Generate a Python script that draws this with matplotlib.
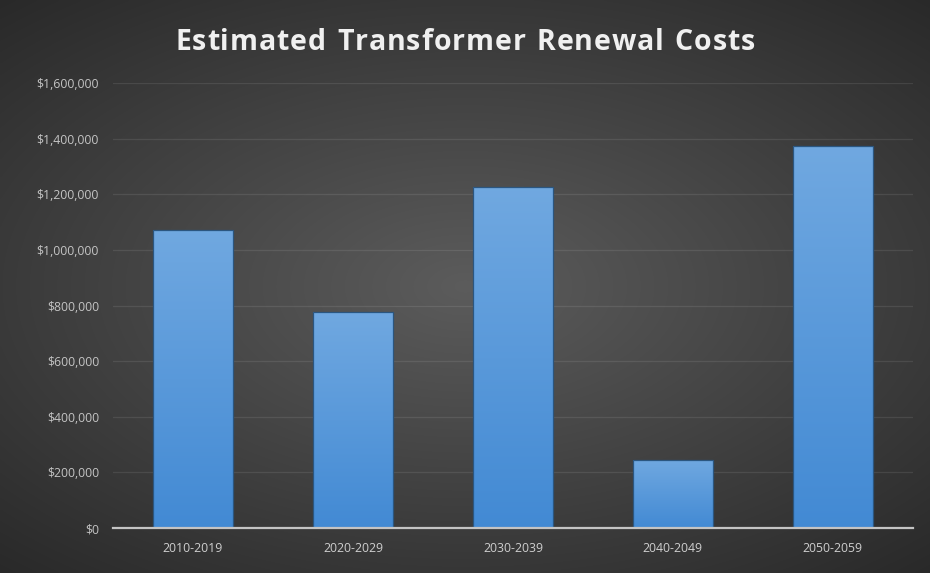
import numpy as np
import matplotlib
matplotlib.use("Agg")
import matplotlib.pyplot as plt
from matplotlib.ticker import FuncFormatter, MultipleLocator

periods = ["2010-2019", "2020-2029", "2030-2039", "2040-2049", "2050-2059"]
costs = [1072000, 777000, 1226000, 245000, 1374000]
title = "Estimated Transformer Renewal Costs"

W, H = 930, 573
fig = plt.figure(figsize=(W / 100, H / 100), dpi=100)

# radial dark-gray backdrop
bg = fig.add_axes([0, 0, 1, 1], zorder=-10)
yy, xx = np.mgrid[-1:1:300j, -1:1:480j]
r = np.sqrt((xx * 0.95) ** 2 + (yy * 1.05) ** 2)
shade = np.clip(0.36 - 0.14 * r, 0.16, 0.36)
bg.imshow(np.dstack([shade, shade, shade]), aspect="auto", extent=[0, 1, 0, 1],
          interpolation="bicubic")
bg.set_axis_off()

ax = fig.add_axes([0.1215, 0.0785, 0.86, 0.7765])
ax.set_facecolor("none")

x = np.arange(len(periods))
bars = ax.bar(x, costs, width=0.5, color="none", edgecolor="#2b5680",
              linewidth=0.9, zorder=3)

# vertical blue gradient inside each bar
grad = np.linspace(0, 1, 256).reshape(-1, 1)
top = np.array([0.44, 0.66, 0.88])
bot = np.array([0.26, 0.54, 0.83])
img = (bot[None, None, :] * (1 - grad[..., None]) + top[None, None, :] * grad[..., None])
for b in bars:
    x0, w, h = b.get_x(), b.get_width(), b.get_height()
    im = ax.imshow(img, extent=[x0, x0 + w, 0, h], origin="lower", aspect="auto",
                   zorder=2.5, interpolation="bilinear")
    im.set_clip_path(b)

ax.set_xlim(-0.5, len(periods) - 0.5)
ax.set_ylim(0, 1600000)
ax.yaxis.set_major_locator(MultipleLocator(200000))
ax.yaxis.set_major_formatter(FuncFormatter(lambda v, p: f"${v:,.0f}"))
ax.set_xticks(x)
ax.set_xticklabels(periods)

ax.grid(axis="y", color="white", alpha=0.09, linewidth=0.9, zorder=0)
ax.set_axisbelow(True)
for s in ["top", "right", "left"]:
    ax.spines[s].set_visible(False)
ax.spines["bottom"].set_color("#c4c4c4")
ax.spines["bottom"].set_linewidth(1.6)
ax.spines["bottom"].set_zorder(4)

ax.tick_params(axis="y", length=0, pad=10, labelsize=8.8, labelcolor="#c4c4c4")
ax.tick_params(axis="x", length=0, pad=10, labelsize=8.8, labelcolor="#cfcfcf")
for lbl in ax.get_yticklabels() + ax.get_xticklabels():
    lbl.set_fontfamily("Open Sans")

# letter-spaced title, laid out one glyph at a time
renderer = fig.canvas.get_renderer()
tkw = dict(fontsize=20.5, fontweight="bold", color="#f0f0f0", family="Open Sans",
           va="baseline", ha="left")
widths = []
for ch in title:
    t = fig.text(0, 0, ch if ch != " " else "n", **tkw)
    wpx = t.get_window_extent(renderer).width
    if ch == " ":
        wpx *= 0.5
    widths.append(wpx)
    t.remove()
span = 580.0
gap = (span - sum(widths)) / (len(title) - 1)
xpos = (W - span) / 2
baseline = 1 - 50 / H
for ch, wpx in zip(title, widths):
    if ch != " ":
        fig.text(xpos / W, baseline, ch, **tkw)
    xpos += wpx + gap

fig.savefig("out.png", dpi=100)
